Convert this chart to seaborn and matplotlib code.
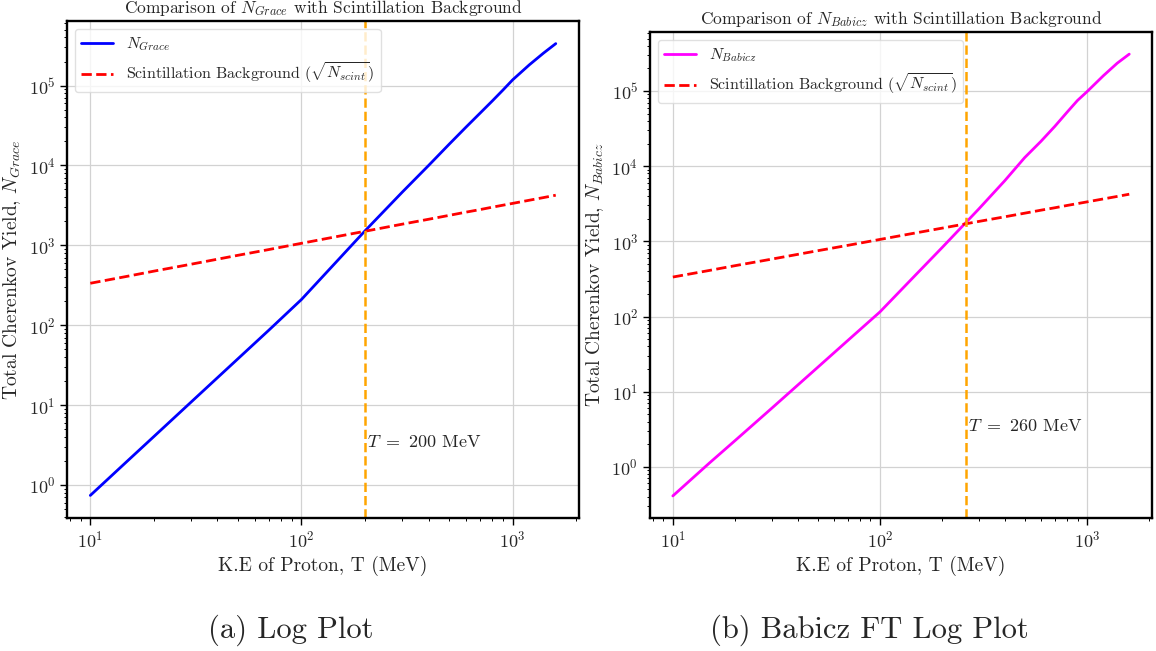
import matplotlib
matplotlib.use("Agg")
import matplotlib.pyplot as plt
import seaborn as sns
import pandas as pd

# ---- data ----
T_mev = [10, 15, 20, 30, 50, 70, 100, 150, 200, 300, 400, 500, 600, 700, 800, 900, 1000, 1200, 1400, 1600]
n_grace = [0.74, 2.0, 4.04, 10.9, 38, 86.5, 210, 668, 1520, 4630, 10000, 18400, 30000, 45000, 64000,
           88000, 118000, 182000, 255000, 335000]
n_babicz = [0.41, 1.12, 2.24, 6.0, 21, 48, 115, 366, 830, 2690, 6370, 13000, 21500, 34000, 52000,
            75000, 98000, 160000, 235000, 310000]
n_scint_sqrt = [335, 410, 475, 580, 750, 885, 1060, 1300, 1500, 1840, 2120, 2370, 2600, 2800, 3000,
                3180, 3350, 3670, 3960, 4240]
t_threshold = [200, 260]
panel_titles = [r"Comparison of $N_{Grace}$ with Scintillation Background",
                r"Comparison of $N_{Babicz}$ with Scintillation Background"]
series_labels = [r"$N_{Grace}$", r"$N_{Babicz}$"]
y_labels = [r"Total Cherenkov Yield, $N_{Grace}$", r"Total Cherenkov Yield, $N_{Babicz}$"]
scint_label = r"Scintillation Background ($\sqrt{N_{scint}}$)"
x_label = "K.E of Proton, T (MeV)"
captions = ["(a) Log Plot", "(b) Babicz FT Log Plot"]

sns.set_style("whitegrid", {
    "axes.edgecolor": "black",
    "grid.color": "#d2d2d2",
    "xtick.bottom": True,
    "ytick.left": True,
})
plt.rcParams["font.family"] = ["cmr10", "DejaVu Serif"]
plt.rcParams["mathtext.fontset"] = "cm"
plt.rcParams["axes.formatter.use_mathtext"] = True
plt.rcParams["axes.unicode_minus"] = False
plt.rcParams["xtick.major.size"] = 5
plt.rcParams["ytick.major.size"] = 5
plt.rcParams["xtick.minor.size"] = 2.5
plt.rcParams["ytick.minor.size"] = 2.5

df = pd.DataFrame({"T": T_mev, "grace": n_grace, "babicz": n_babicz, "scint": n_scint_sqrt})

fig = plt.figure(figsize=(11.56, 6.51), dpi=100)
ax1 = fig.add_axes([0.058, 0.2043, 0.4429, 0.7634])
ax2 = fig.add_axes([0.5623, 0.2043, 0.4343, 0.7465])

for ax, col, color, lab, ttl, ylab, tthr in zip(
        [ax1, ax2], ["grace", "babicz"], ["blue", "magenta"], series_labels,
        panel_titles, y_labels, t_threshold):
    sns.lineplot(data=df, x="T", y=col, ax=ax, color=color, lw=2, label=lab)
    sns.lineplot(data=df, x="T", y="scint", ax=ax, color="red", lw=2,
                 linestyle="--", label=scint_label)
    ax.set_xscale("log")
    ax.set_yscale("log")
    ax.axvline(tthr, color="orange", linestyle="--", lw=1.8)
    ax.text(tthr + 5, 3, rf"$T\ =\ {tthr}$ MeV", fontsize=13)
    ax.set_title(ttl, fontsize=12.5)
    ax.set_xlabel(x_label, fontsize=14)
    ax.set_ylabel(ylab, fontsize=14)
    ax.tick_params(axis="both", which="major", labelsize=13, color="black", width=1)
    ax.tick_params(axis="both", which="minor", color="black", width=0.7)
    ax.grid(True, which="major", lw=0.9)
    ax.grid(False, which="minor")
    for sp in ax.spines.values():
        sp.set_linewidth(1.7)
        sp.set_color("black")
    ax.legend(loc="upper left", fontsize=11.5, framealpha=0.8, edgecolor="0.85")

fig.text(291 / 1156, 1 - 630 / 651, captions[0], ha="center", va="center", fontsize=22)
fig.text(869 / 1156, 1 - 630 / 651, captions[1], ha="center", va="center", fontsize=22)

fig.savefig("out.png", dpi=100)
